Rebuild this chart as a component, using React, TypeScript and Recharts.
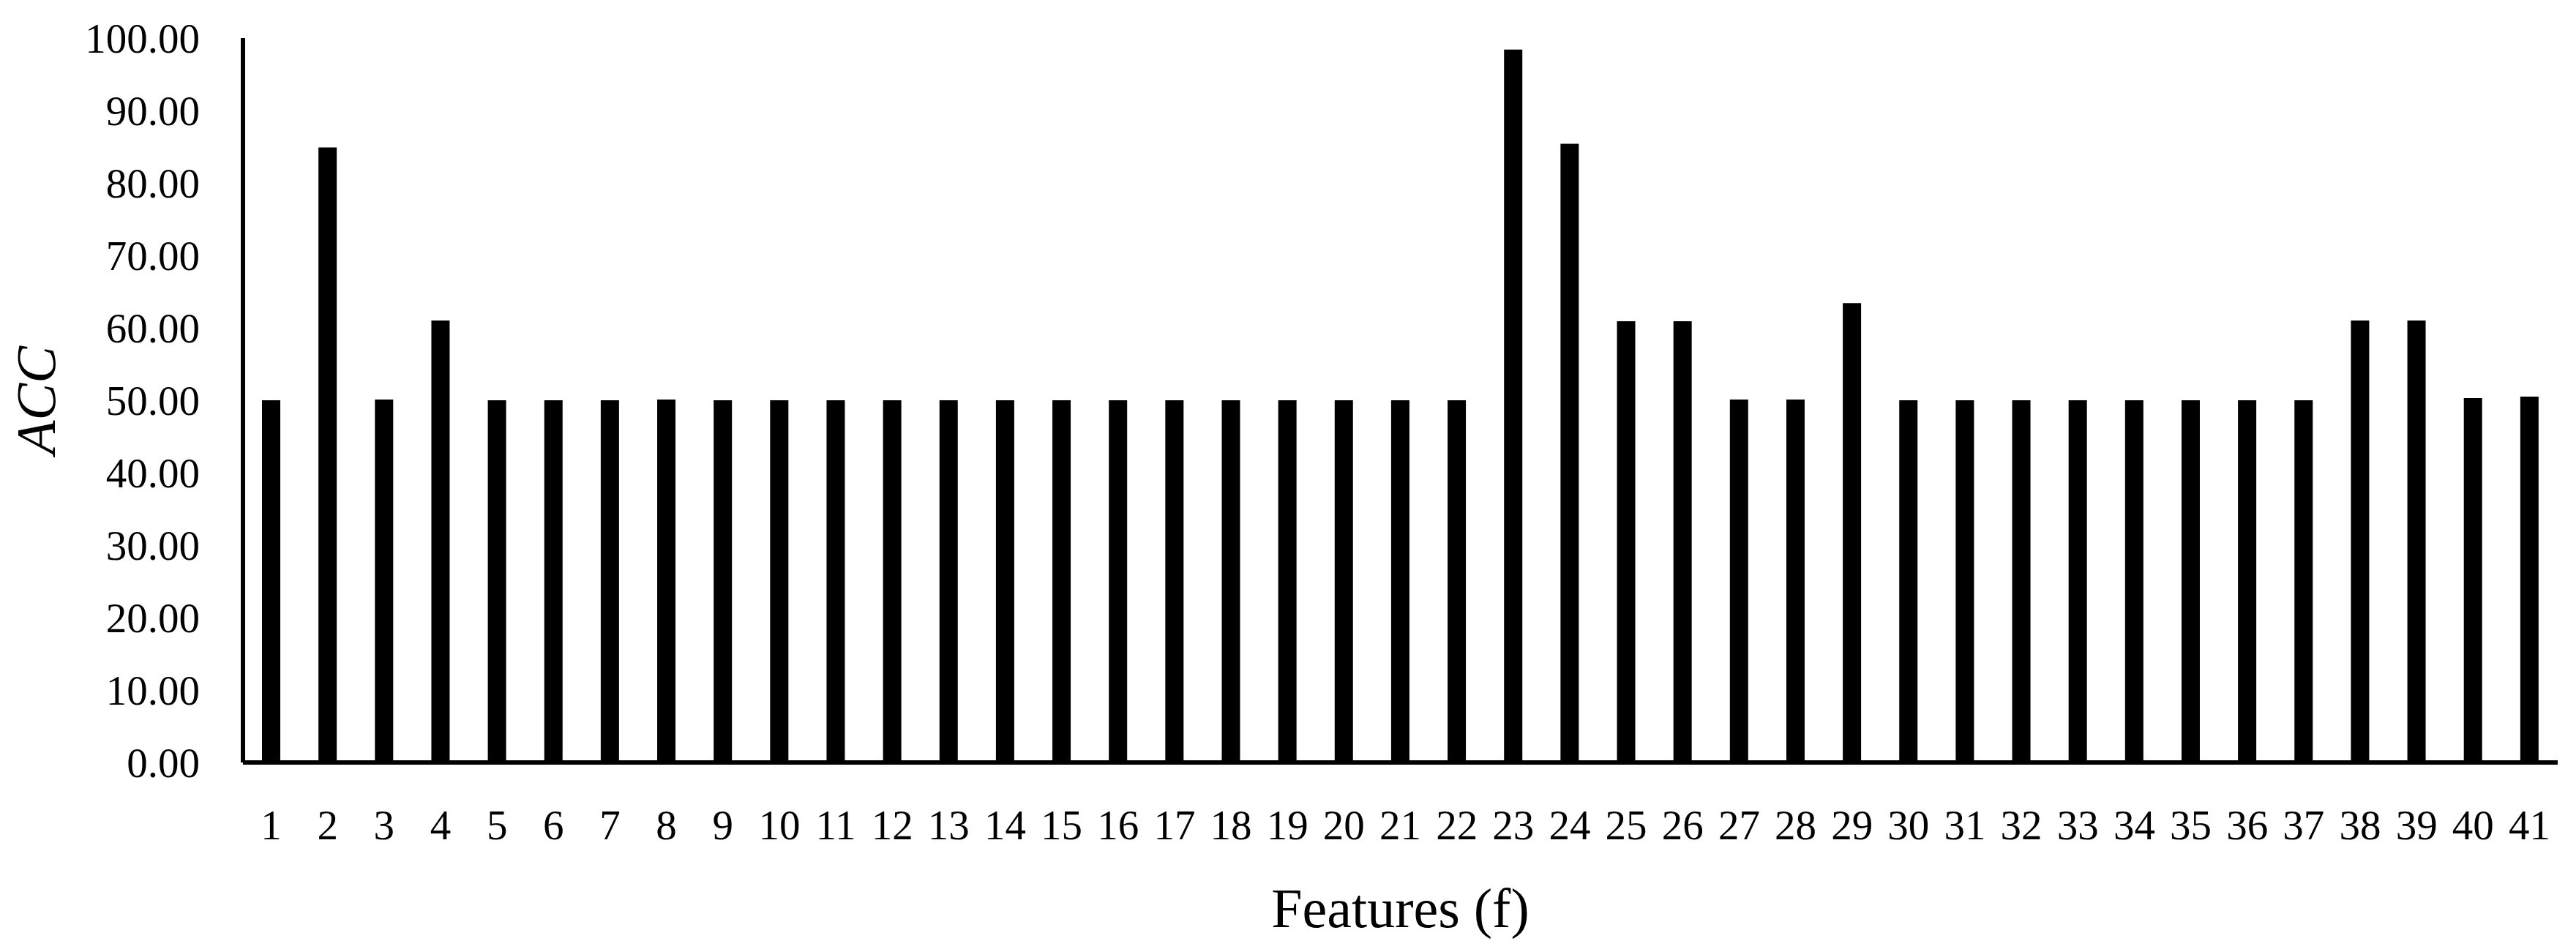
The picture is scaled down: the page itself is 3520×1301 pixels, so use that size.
import { BarChart, Bar, XAxis, YAxis } from 'recharts'

// feature index on the x axis
const FEATURES = Array.from({ length: 41 }, (_, i) => String(i + 1))

// ACC per feature
const ACC = [
  50.0, 84.9, 50.1, 61.0, 50.0, 50.0, 50.0, 50.1, 50.0, 50.0,
  50.0, 50.0, 50.0, 50.0, 50.0, 50.0, 50.0, 50.0, 50.0, 50.0,
  50.0, 50.0, 98.4, 85.4, 60.9, 60.9, 50.1, 50.1, 63.4, 50.0,
  50.0, 50.0, 50.0, 50.0, 50.0, 50.0, 50.0, 61.0, 61.0, 50.3,
  50.5,
]

const Y_TICKS = [0, 10, 20, 30, 40, 50, 60, 70, 80, 90, 100]

const FONT = '"Liberation Serif", "Times New Roman", serif'

export default function App() {
  const data = FEATURES.map((f, i) => ({ feature: f, acc: ACC[i] }))

  return (
    <div style={{ position: 'absolute', left: 0, top: 0, width: 3520, height: 1301, background: '#fff' }}>
      <BarChart
        width={3520}
        height={1301}
        data={data}
        margin={{ top: 52, right: 25, bottom: 0, left: 0 }}
      >
        <XAxis
          dataKey="feature"
          interval={0}
          height={259}
          tickLine={false}
          tickSize={0}
          tickMargin={65}
          axisLine={{ stroke: '#000', strokeWidth: 6 }}
          tick={{ fill: '#000', fontSize: 57, fontFamily: FONT }}
          label={{
            value: 'Features (f)',
            position: 'insideBottom',
            offset: 34,
            style: { fill: '#000', fontSize: 76, fontFamily: FONT },
          }}
        />
        <YAxis
          width={332}
          domain={[0, 100]}
          ticks={Y_TICKS}
          tickFormatter={(v: number) => v.toFixed(2)}
          tickLine={false}
          tickSize={0}
          tickMargin={59}
          axisLine={{ stroke: '#000', strokeWidth: 6 }}
          tick={{ fill: '#000', fontSize: 57, fontFamily: FONT }}
          label={{
            value: 'ACC',
            angle: -90,
            position: 'insideLeft',
            offset: 48,
            style: { fill: '#000', fontSize: 76, fontFamily: FONT, fontStyle: 'italic', textAnchor: 'middle' },
          }}
        />
        <Bar dataKey="acc" fill="#000" barSize={25} isAnimationActive={false} />
      </BarChart>
    </div>
  )
}
